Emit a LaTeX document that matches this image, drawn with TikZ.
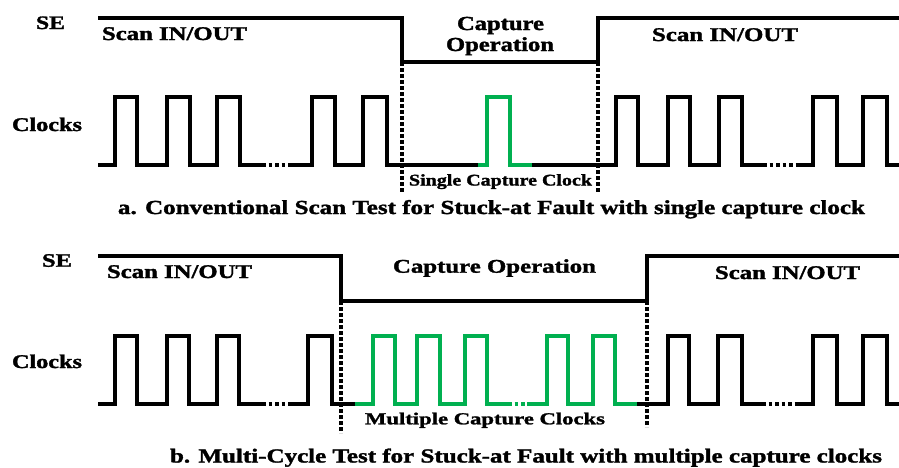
\documentclass[tikz,border=0pt]{standalone}
\usepackage{fontspec}
\setmainfont{Liberation Serif}[BoldFeatures={FakeBold=1.4}]
\definecolor{capgreen}{HTML}{00B050}
% bold label, stretched to a given width (pt) at a given size (pt)
\newcommand\fitlabel[3]{\resizebox{#1pt}{\height}{\fontsize{#2}{#2}\selectfont\bfseries #3}}
\begin{document}
\begin{tikzpicture}[x=1pt,y=-1pt,
  wave/.style={line width=3.2pt,line join=miter,black},
  capwave/.style={wave,capgreen},
  gap/.style={line width=3.2pt,dash pattern=on 3.5pt off 3pt},
  marker/.style={line width=3.6pt,dash pattern=on 3.5pt off 2.5pt},
  lbl/.style={anchor=base west,inner sep=0pt,outer sep=0pt}]
\useasboundingbox (0,0) rectangle (899,467);

% ---------- a. conventional scan test ----------
\draw[wave] (98,18) -- (402,18) -- (402,62) -- (598,62) -- (598,18) -- (899,18);
\draw[marker] (402,62) -- (402,193);
\draw[marker] (598,62) -- (598,192);

\draw[wave] (98,165) -- (115,165) -- (115,97) -- (137,97) -- (137,165)
  -- (167,165) -- (167,97) -- (190,97) -- (190,165)
  -- (217,165) -- (217,97) -- (240,97) -- (240,165) -- (262,165);
\draw[gap] (262,165) -- (292,165);
\draw[wave] (292,165) -- (312,165) -- (312,97) -- (335,97) -- (335,165)
  -- (363,165) -- (363,97) -- (387,97) -- (387,165) -- (478,165);
\draw[capwave] (478,165) -- (487,165) -- (487,97) -- (510,97) -- (510,165) -- (532,165);
\draw[wave] (532,165) -- (616,165) -- (616,97) -- (638,97) -- (638,165)
  -- (668,165) -- (668,97) -- (690,97) -- (690,165)
  -- (719,165) -- (719,97) -- (742,97) -- (742,165) -- (763,165);
\draw[gap] (763,165) -- (797,165);
\draw[wave] (797,165) -- (813,165) -- (813,97) -- (837,97) -- (837,165)
  -- (863,165) -- (863,97) -- (887,97) -- (887,165) -- (899,165);

\node[lbl] (sea) at (36,29) {\fitlabel{29}{19}{SE}};
\node[lbl] (scanaL) at (102,40) {\fitlabel{145}{19.4}{Scan IN/OUT}};
\node[lbl] (capa1) at (457,30) {\fitlabel{87}{19.9}{Capture}};
\node[lbl] (capa2) at (446,51) {\fitlabel{108}{19.9}{Operation}};
\node[lbl] (scanaR) at (652,41) {\fitlabel{146}{19.4}{Scan IN/OUT}};
\node[lbl] (clka) at (12,131) {\fitlabel{70}{19.4}{Clocks}};
\node[lbl] (singlecap) at (409,185.5) {\fitlabel{183}{16.3}{Single Capture Clock}};
\node[lbl] (capta) at (118,214) {\fitlabel{747}{19.9}{a. Conventional Scan Test for Stuck-at Fault with single capture clock}};

% ---------- b. multi-cycle test ----------
\draw[wave] (98,256) -- (341,256) -- (341,301) -- (647,301) -- (647,256) -- (899,256);
\draw[marker] (341,301) -- (341,433);
\draw[marker] (647,301) -- (647,427);

\draw[wave] (98,404) -- (115,404) -- (115,336) -- (137,336) -- (137,404)
  -- (167,404) -- (167,336) -- (189,336) -- (189,404)
  -- (217,404) -- (217,336) -- (239,336) -- (239,404) -- (262,404);
\draw[gap] (262,404) -- (290,404);
\draw[wave] (290,404) -- (308,404) -- (308,336) -- (332,336) -- (332,404) -- (355,404);
\draw[capwave] (355,404) -- (373,404) -- (373,336) -- (395,336) -- (395,404)
  -- (417,404) -- (417,336) -- (440,336) -- (440,404)
  -- (465,404) -- (465,336) -- (487,336) -- (487,404) -- (508,404);
\draw[gap,capgreen] (508,404) -- (527,404);
\draw[capwave] (527,404) -- (547,404) -- (547,336) -- (568,336) -- (568,404)
  -- (593,404) -- (593,336) -- (615,336) -- (615,404) -- (637,404);
\draw[wave] (637,404) -- (668,404) -- (668,336) -- (689,336) -- (689,404)
  -- (718,404) -- (718,336) -- (742,336) -- (742,404) -- (762,404);
\draw[gap] (762,404) -- (795,404);
\draw[wave] (795,404) -- (813,404) -- (813,336) -- (837,336) -- (837,404)
  -- (863,404) -- (863,336) -- (887,336) -- (887,404) -- (899,404);

\node[lbl] (seb) at (42,266.7) {\fitlabel{30}{19}{SE}};
\node[lbl] (scanbL) at (107,278) {\fitlabel{145}{19.4}{Scan IN/OUT}};
\node[lbl] (capb) at (393,272.7) {\fitlabel{203}{19.4}{Capture Operation}};
\node[lbl] (scanbR) at (715,279) {\fitlabel{145}{19.4}{Scan IN/OUT}};
\node[lbl] (clkb) at (12,368) {\fitlabel{70}{19.4}{Clocks}};
\node[lbl] (multicap) at (365,424.3) {\fitlabel{240}{16.8}{Multiple Capture Clocks}};
\node[lbl] (captb) at (170,462.5) {\fitlabel{712}{19.9}{b. Multi-Cycle Test for Stuck-at Fault with multiple capture clocks}};
\end{tikzpicture}
\end{document}
